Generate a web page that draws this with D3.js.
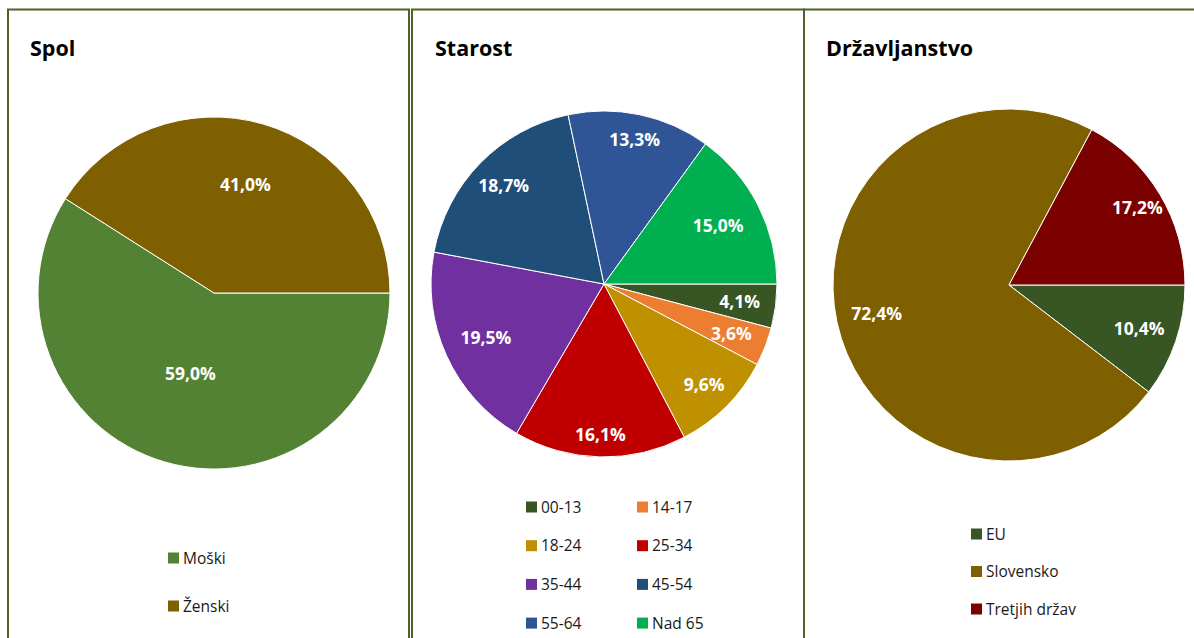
<!DOCTYPE html>
<html>
<head>
<meta charset="utf-8">
<script src="https://cdn.jsdelivr.net/npm/d3@7"></script>
<style>
  body { margin: 0; background: #fff; }
  svg text { font-family: "Open Sans", sans-serif; }
</style>
</head>
<body>
<svg id="chart" width="1194" height="638"></svg>
<script>
// podatki
const spolCat = ["Moški", "Ženski"];
const spolVal = [59.0, 41.0];
const spolCol = ["#548235", "#7F6000"];

const starostCat = ["00-13", "14-17", "18-24", "25-34", "35-44", "45-54", "55-64", "Nad 65"];
const starostVal = [4.1, 3.6, 9.6, 16.1, 19.5, 18.7, 13.3, 15.0];
const starostCol = ["#375623", "#ED7D31", "#BF9000", "#C00000", "#7030A0", "#1F4E79", "#2F5597", "#00B050"];

const drzCat = ["EU", "Slovensko", "Tretjih držav"];
const drzVal = [10.4, 72.4, 17.2];
const drzCol = ["#375623", "#7F6000", "#7B0000"];

const svg = d3.select("#chart");
const border = "#4F6228";

// okvirji
const frames = [[8, 409], [412, 804], [804, 1200]];
frames.forEach(f => {
  svg.append("rect")
    .attr("x", f[0]).attr("y", 9.5)
    .attr("width", f[1] - f[0]).attr("height", 700)
    .attr("fill", "none")
    .attr("stroke", border)
    .attr("stroke-width", 2);
});

const fmt = v => d3.format(".1f")(v).replace(".", ",") + "%";

function drawPie(opt) {
  const g = svg.append("g");
  g.append("text")
    .attr("x", opt.titleX).attr("y", 56)
    .attr("font-size", 21.5).attr("font-weight", "bold")
    .attr("fill", "#000")
    .text(opt.title);

  const data = opt.cats.map((c, i) => ({cat: c, val: opt.vals[i], col: opt.cols[i]}));
  const pie = d3.pie().value(d => d.val).sort(null)
    .startAngle(Math.PI / 2).endAngle(Math.PI / 2 + 2 * Math.PI);
  const arcs = pie(data);
  const arc = d3.arc().innerRadius(0).outerRadius(opt.r);

  const pg = g.append("g").attr("transform", `translate(${opt.cx},${opt.cy})`);
  pg.selectAll("path").data(arcs).enter().append("path")
    .attr("d", arc)
    .attr("fill", d => d.data.col)
    .attr("stroke", "#fff")
    .attr("stroke-width", 1);

  pg.selectAll("text").data(arcs).enter().append("text")
    .attr("transform", (d, i) => {
      const a = (d.startAngle + d.endAngle) / 2;
      const k = opt.lab[i] * opt.r;
      return `translate(${Math.sin(a) * k},${-Math.cos(a) * k})`;
    })
    .attr("text-anchor", "middle")
    .attr("dy", "0.36em")
    .attr("font-size", 17.5).attr("font-weight", "bold")
    .attr("fill", "#fff")
    .text(d => fmt(d.data.val));

  // legenda
  const lg = g.append("g");
  data.forEach((d, i) => {
    const col = i % opt.ncol, row = Math.floor(i / opt.ncol);
    const x = opt.legX + col * opt.legDx, y = opt.legY + row * opt.legDy;
    lg.append("rect").attr("x", x).attr("y", y - 5.5)
      .attr("width", 11).attr("height", 11).attr("fill", d.col);
    lg.append("text").attr("x", x + 15).attr("y", y).attr("dy", "0.36em")
      .attr("font-size", 15.5).attr("fill", "#1a1a1a").text(d.cat);
  });
}

drawPie({title: "Spol", titleX: 30, cats: spolCat, vals: spolVal, cols: spolCol,
  cx: 214, cy: 293, r: 176, lab: [0.48, 0.64],
  ncol: 1, legX: 168, legY: 558, legDx: 0, legDy: 48});

drawPie({title: "Starost", titleX: 435, cats: starostCat, vals: starostVal, cols: starostCol,
  cx: 604, cy: 284, r: 173, lab: [0.79, 0.79, 0.82, 0.87, 0.75, 0.81, 0.85, 0.74],
  ncol: 2, legX: 526, legY: 507, legDx: 111, legDy: 38.7});

drawPie({title: "Državljanstvo", titleX: 826, cats: drzCat, vals: drzVal, cols: drzCol,
  cx: 1009, cy: 285, r: 176, lab: [0.78, 0.77, 0.85],
  ncol: 1, legX: 971, legY: 534, legDx: 0, legDy: 37.5});
</script>
</body>
</html>
